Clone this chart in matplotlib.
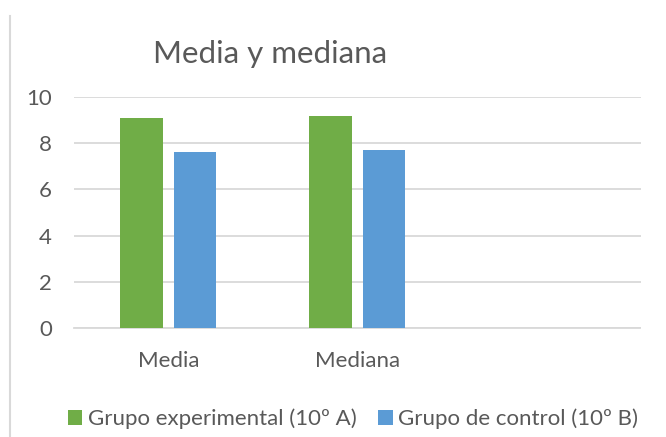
import numpy as np
import matplotlib.pyplot as plt
from matplotlib.lines import Line2D

categories = ['Media', 'Mediana', '']
experimental = [9.12, 9.2, np.nan]
control = [7.63, 7.7, np.nan]
series_names = ['Grupo experimental (10º A)', 'Grupo de control (10º B)']
yticks = [0, 2, 4, 6, 8, 10]

green = '#70AD47'
blue = '#5B9BD5'
txt = '#595959'

plt.rcParams['font.family'] = ['Lato', 'DejaVu Sans']

fig = plt.figure(figsize=(6.66, 4.37), dpi=100)
ax = fig.add_axes([74/666, 109.3/437, 566.5/666, 230.4/437])

x = np.arange(len(categories))
w = 0.226
off = 0.1416
ax.bar(x - off, experimental, w, color=green, label=series_names[0], zorder=3)
ax.bar(x + off, control, w, color=blue, label=series_names[1], zorder=3)

ax.set_xlim(-0.5, len(categories) - 0.5)
ax.set_ylim(0, 10)
ax.set_yticks(yticks)
ax.set_xticks(x)
ax.set_xticklabels(categories)
ax.yaxis.grid(True, color='#D9D9D9', linewidth=1.3, zorder=0)
for s in ['top', 'right', 'left']:
    ax.spines[s].set_visible(False)
ax.spines['bottom'].set_color('#D9D9D9')
ax.spines['bottom'].set_linewidth(1.3)
ax.tick_params(length=0, labelsize=16, colors=txt)
ax.tick_params(axis='y', pad=16)
ax.tick_params(axis='x', pad=17)

fig.text(270/666, 1 - 54/437, 'Media y mediana', ha='center', va='center',
         fontsize=22.5, color=txt)

# borde izquierdo del grafico
fig.add_artist(Line2D([10/666, 10/666], [0, 1 - 16/437], color='#D9D9D9', linewidth=1.5))

fig.legend(loc='center', bbox_to_anchor=(353/666, 1 - 419/437), ncol=2, frameon=False,
           fontsize=16, labelcolor=txt, handlelength=0.64, handleheight=0.64,
           handletextpad=0.25, columnspacing=1.0, borderaxespad=0)

fig.savefig('out.png', dpi=100)
